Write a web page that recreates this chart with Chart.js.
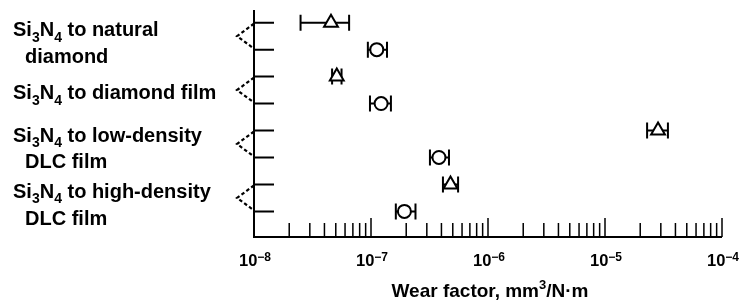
<!DOCTYPE html>
<html>
<head>
<meta charset="utf-8">
<script src="https://cdn.jsdelivr.net/npm/chart.js@4"></script>
<style>
  html, body { margin: 0; padding: 0; background: #fff; }
  #wrap { width: 745px; height: 306px; }
</style>
</head>
<body>
<div id="wrap"><canvas id="chart" width="745" height="306"></canvas></div>
<script>
var categories = [
    ["Si3N4 to natural", "diamond"],
    ["Si3N4 to diamond film"],
    ["Si3N4 to low-density", "DLC film"],
    ["Si3N4 to high-density", "DLC film"]
];
// triangles: upper row of each pair
var triValues = [4.55e-8, 5.1e-8, 2.84e-5, 4.78e-7];
var triLow    = [2.5e-8, 4.65e-8, 2.29e-5, 4.12e-7];
var triHigh   = [6.5e-8, 5.6e-8, 3.45e-5, 5.55e-7];
// circles: lower row of each pair
var circValues = [1.12e-7, 1.22e-7, 3.81e-7, 1.93e-7];
var circLow    = [9.4e-8, 9.8e-8, 3.19e-7, 1.63e-7];
var circHigh   = [1.37e-7, 1.48e-7, 4.64e-7, 2.40e-7];
var majorTicks = [1e-8, 1e-7, 1e-6, 1e-5, 1e-4];
var tickLabels = ["10^-8", "10^-7", "10^-6", "10^-5", "10^-4"];
var axisTitle = "Wear factor, mm^3/N\u00b7m";

var FONT = "'Liberation Sans', Arial, Helvetica, sans-serif";

// split text into normal / sub / sup pieces
function pieces(text) {
    var out = [];
    var mode = "n";
    for (var i = 0; i < text.length; i++) {
        var ch = text[i];
        if (ch === "^") { mode = "sup"; continue; }
        if (mode === "sup" && !/[-0-9]/.test(ch)) mode = "n";
        var m = mode;
        if (m === "n" && /\d/.test(ch) && i > 0 && /[A-Za-z]/.test(text[i - 1])) m = "sub";
        if (m === "sup" && ch === "-") ch = "\u2212";
        if (out.length && out[out.length - 1].m === m) out[out.length - 1].t += ch;
        else out.push({ t: ch, m: m });
    }
    return out;
}

function drawRich(ctx, text, x, y, size, align, smallRatio, raise) {
    var parts = pieces(text);
    var small = Math.round(size * (smallRatio || 0.7));
    raise = raise || 0.42;
    var total = 0;
    parts.forEach(function (p) {
        ctx.font = "bold " + (p.m === "n" ? size : small) + "px " + FONT;
        p.w = ctx.measureText(p.t).width;
        total += p.w;
    });
    var cx = align === "center" ? x - total / 2 : x;
    ctx.textAlign = "left";
    ctx.textBaseline = "alphabetic";
    parts.forEach(function (p) {
        ctx.font = "bold " + (p.m === "n" ? size : small) + "px " + FONT;
        var dy = p.m === "sub" ? size * 0.28 : (p.m === "sup" ? -size * raise : 0);
        ctx.fillText(p.t, cx, y + dy);
        cx += p.w;
    });
}

function errorBars(chart, rows, lows, highs) {
    var ctx = chart.ctx;
    var xs = chart.scales.x, ys = chart.scales.y;
    ctx.save();
    ctx.strokeStyle = "#000";
    ctx.lineWidth = 2;
    for (var i = 0; i < lows.length; i++) {
        var y = ys.getPixelForValue(rows[i]);
        var x1 = xs.getPixelForValue(lows[i]);
        var x2 = xs.getPixelForValue(highs[i]);
        ctx.beginPath();
        ctx.moveTo(x1, y); ctx.lineTo(x2, y);
        ctx.moveTo(x1, y - 8); ctx.lineTo(x1, y + 8);
        ctx.moveTo(x2, y - 8); ctx.lineTo(x2, y + 8);
        ctx.stroke();
    }
    ctx.restore();
}

var triRows = categories.map(function (c, i) { return 2 * i; });
var circRows = categories.map(function (c, i) { return 2 * i + 1; });

var figurePlugin = {
    id: "figure",
    beforeDatasetsDraw: function (chart) {
        errorBars(chart, triRows, triLow, triHigh);
        errorBars(chart, circRows, circLow, circHigh);
    },
    afterDraw: function (chart) {
        var ctx = chart.ctx;
        var a = chart.chartArea;
        var xs = chart.scales.x, ys = chart.scales.y;
        ctx.save();
        ctx.strokeStyle = "#000";
        ctx.fillStyle = "#000";
        ctx.lineWidth = 2;

        // axes
        ctx.beginPath();
        ctx.moveTo(a.left, a.top); ctx.lineTo(a.left, a.bottom); ctx.lineTo(a.right, a.bottom);
        ctx.stroke();

        // row ticks
        var nRows = categories.length * 2;
        ctx.beginPath();
        for (var r = 0; r < nRows; r++) {
            var py = ys.getPixelForValue(r);
            ctx.moveTo(a.left, py); ctx.lineTo(a.left + 20, py);
        }
        ctx.stroke();

        // dashed brackets joining each pair of rows
        ctx.setLineDash([3.5, 2.5]);
        ctx.lineWidth = 2.2;
        ctx.beginPath();
        for (var k = 0; k < categories.length; k++) {
            var y0 = ys.getPixelForValue(2 * k), y1 = ys.getPixelForValue(2 * k + 1);
            ctx.moveTo(a.left, y0 + 1);
            ctx.lineTo(a.left - 17, (y0 + y1) / 2);
            ctx.lineTo(a.left, y1 - 1);
        }
        ctx.stroke();
        ctx.setLineDash([]);

        // log ticks pointing up
        ctx.lineWidth = 1.5;
        ctx.beginPath();
        majorTicks.forEach(function (v, i) {
            for (var m = 1; m <= 9; m++) {
                if (m > 1 && i === majorTicks.length - 1) break;
                var px = xs.getPixelForValue(v * m);
                ctx.moveTo(px, a.bottom);
                ctx.lineTo(px, a.bottom - (m === 1 ? 19 : 14));
            }
        });
        ctx.stroke();

        // tick labels
        majorTicks.forEach(function (v, i) {
            drawRich(ctx, tickLabels[i], xs.getPixelForValue(v) + 1, a.bottom + 29, 16.5, "center", 0.75, 0.32);
        });

        // axis title
        drawRich(ctx, axisTitle, (a.left + a.right) / 2 + 2, a.bottom + 60, 19, "center");

        // category labels
        var lineRows = [[0.51, 1.49], [2.84], [4.41, 5.40], [6.49, 7.51]];
        categories.forEach(function (lines, k) {
            lines.forEach(function (txt, j) {
                drawRich(ctx, txt, j === 0 ? 13 : 25, ys.getPixelForValue(lineRows[k][j]), 20, "left");
            });
        });
        ctx.restore();
    }
};

new Chart(document.getElementById("chart"), {
    type: "scatter",
    data: {
        datasets: [
            {
                label: "triangle",
                data: triValues.map(function (v, i) { return { x: v, y: triRows[i] }; }),
                pointStyle: "triangle",
                radius: 8,
                backgroundColor: "#fff",
                borderColor: "#000",
                borderWidth: 2
            },
            {
                label: "circle",
                data: circValues.map(function (v, i) { return { x: v, y: circRows[i] }; }),
                pointStyle: "circle",
                radius: 6.5,
                backgroundColor: "#fff",
                borderColor: "#000",
                borderWidth: 2
            }
        ]
    },
    options: {
        responsive: false,
        animation: false,
        devicePixelRatio: 1,
        layout: { padding: { left: 254, right: 23, top: 6, bottom: 69 } },
        plugins: { legend: { display: false }, tooltip: { enabled: false } },
        scales: {
            x: { type: "logarithmic", min: 1e-8, max: 1e-4, display: false },
            y: { type: "linear", min: -0.47, max: 7.95, reverse: true, display: false }
        }
    },
    plugins: [figurePlugin]
});
</script>
</body>
</html>
